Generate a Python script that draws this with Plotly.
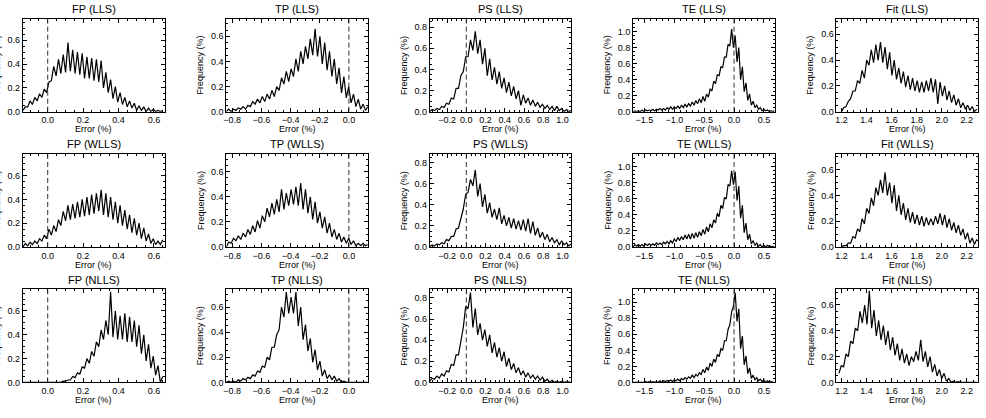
import numpy as np
import plotly.graph_objects as go

# ---------------- data (histogram frequencies, %) -------------
fp_lls = [0.01,0.04, 0.04,0.09, 0.06,0.12, 0.09,0.15, 0.12,0.19, 0.16,0.25, 0.26,0.38, 0.30,0.44,
          0.32,0.48, 0.33,0.58, 0.34,0.52, 0.32,0.50, 0.31,0.49, 0.28,0.46, 0.28,0.45, 0.26,0.44,
          0.25,0.43, 0.20,0.33, 0.16,0.27, 0.11,0.21, 0.08,0.16, 0.06,0.12, 0.04,0.09, 0.03,0.07,
          0.01,0.05, 0.01,0.04, 0.0,0.03, 0.0,0.02, 0.0,0.01, 0.0,0.01]
fp_wlls = [0.0,0.03, 0.01,0.04, 0.02,0.05, 0.03,0.07, 0.05,0.10, 0.07,0.15, 0.10,0.18, 0.13,0.23,
           0.18,0.30, 0.22,0.35, 0.23,0.36, 0.24,0.38, 0.25,0.40, 0.26,0.42, 0.27,0.44, 0.28,0.45,
           0.30,0.48, 0.27,0.45, 0.25,0.42, 0.23,0.38, 0.20,0.35, 0.18,0.31, 0.15,0.27, 0.12,0.24,
           0.10,0.20, 0.07,0.16, 0.05,0.11, 0.03,0.07, 0.02,0.05, 0.02,0.06]
fp_nlls = [0,0, 0,0, 0,0, 0,0, 0,0, 0,0, 0,0, 0,0.003, 0,0.01, 0.01,0.02, 0.02,0.05, 0.04,0.08,
           0.07,0.13, 0.12,0.20, 0.16,0.26, 0.22,0.34, 0.30,0.44, 0.36,0.52, 0.40,0.76, 0.38,0.60,
           0.36,0.56, 0.36,0.58, 0.34,0.55, 0.34,0.52, 0.30,0.48, 0.24,0.40, 0.18,0.32, 0.12,0.22,
           0.06,0.14, 0.0,0.05]

tp_lls = [0.0,0.02, 0.0,0.02, 0.01,0.03, 0.02,0.04, 0.02,0.05, 0.04,0.08, 0.06,0.10, 0.07,0.12,
          0.08,0.14, 0.10,0.17, 0.12,0.20, 0.17,0.27, 0.22,0.32, 0.24,0.34, 0.28,0.42, 0.32,0.48,
          0.38,0.52, 0.42,0.58, 0.45,0.66, 0.44,0.60, 0.38,0.55, 0.33,0.48, 0.28,0.42, 0.22,0.35,
          0.15,0.28, 0.11,0.20, 0.07,0.14, 0.04,0.10, 0.02,0.06, 0.01,0.04]
tp_wlls = [0.0,0.04, 0.03,0.07, 0.05,0.09, 0.06,0.11, 0.08,0.14, 0.10,0.17, 0.12,0.21, 0.15,0.25,
           0.20,0.31, 0.24,0.35, 0.26,0.38, 0.28,0.46, 0.30,0.43, 0.33,0.46, 0.34,0.48, 0.33,0.51,
           0.30,0.46, 0.27,0.40, 0.22,0.36, 0.19,0.28, 0.15,0.24, 0.11,0.19, 0.08,0.14, 0.06,0.11,
           0.04,0.08, 0.03,0.07, 0.02,0.05, 0.01,0.03, 0.01,0.03, 0.01,0.02]
tp_nlls = [0.0,0.01, 0.0,0.01, 0.0,0.02, 0.01,0.03, 0.02,0.04, 0.03,0.06, 0.05,0.09, 0.08,0.13,
           0.12,0.20, 0.18,0.28, 0.28,0.38, 0.42,0.60, 0.52,0.72, 0.55,0.68, 0.55,0.72, 0.45,0.60,
           0.34,0.46, 0.25,0.35, 0.16,0.26, 0.10,0.17, 0.05,0.10, 0.03,0.06, 0.02,0.05, 0.01,0.03,
           0.0,0.01, 0,0, 0,0, 0,0, 0,0, 0,0]

ps_lls = [0.0,0.02, 0.01,0.03, 0.02,0.05, 0.04,0.08, 0.07,0.13, 0.12,0.22, 0.22,0.34, 0.38,0.52,
          0.52,0.68, 0.58,0.76, 0.55,0.68, 0.45,0.60, 0.34,0.50, 0.30,0.42, 0.26,0.38, 0.22,0.32,
          0.18,0.28, 0.15,0.24, 0.12,0.20, 0.06,0.16, 0.08,0.13, 0.06,0.11, 0.05,0.09, 0.04,0.07,
          0.03,0.06, 0.02,0.05, 0.01,0.05, 0.01,0.03, 0.0,0.02, 0.0,0.01]
ps_wlls = [0.0,0.02, 0.01,0.03, 0.02,0.04, 0.03,0.07, 0.06,0.10, 0.10,0.17, 0.18,0.28, 0.36,0.50,
           0.52,0.64, 0.58,0.73, 0.48,0.60, 0.38,0.50, 0.32,0.42, 0.28,0.36, 0.26,0.37, 0.22,0.30,
           0.20,0.28, 0.18,0.27, 0.17,0.25, 0.16,0.26, 0.15,0.27, 0.13,0.24, 0.11,0.18, 0.09,0.14,
           0.07,0.12, 0.05,0.09, 0.04,0.07, 0.02,0.06, 0.02,0.04, 0.01,0.03]
ps_nlls = [0.01,0.04, 0.03,0.06, 0.04,0.08, 0.06,0.11, 0.10,0.17, 0.16,0.26, 0.26,0.40, 0.52,0.72,
           0.70,0.85, 0.52,0.70, 0.45,0.56, 0.40,0.50, 0.34,0.45, 0.28,0.38, 0.24,0.33, 0.20,0.29,
           0.15,0.23, 0.12,0.18, 0.09,0.14, 0.07,0.11, 0.05,0.09, 0.04,0.07, 0.03,0.06, 0.02,0.05,
           0.01,0.03, 0.0,0.02, 0.0,0.01, 0.0,0.01, 0,0.005, 0,0]

te_lls = [0.0,0.01, 0.0,0.01, 0.0,0.02, 0.0,0.02, 0.01,0.02, 0.01,0.03, 0.01,0.03, 0.02,0.04,
          0.02,0.04, 0.02,0.05, 0.03,0.06, 0.03,0.06, 0.04,0.07, 0.04,0.08, 0.05,0.09, 0.06,0.10,
          0.07,0.12, 0.08,0.14, 0.10,0.16, 0.11,0.19, 0.13,0.22, 0.18,0.28, 0.26,0.38, 0.35,0.46,
          0.45,0.56, 0.55,0.68, 0.68,0.84, 0.82,1.03, 0.80,0.95, 0.62,0.80, 0.40,0.56, 0.25,0.36,
          0.14,0.22, 0.08,0.13, 0.05,0.08, 0.03,0.05, 0.01,0.03, 0.01,0.02, 0.0,0.01, 0.0,0.01]
te_wlls = [0.0,0.03, 0.01,0.03, 0.01,0.03, 0.01,0.04, 0.02,0.04, 0.02,0.04, 0.02,0.05, 0.03,0.05,
           0.03,0.06, 0.04,0.07, 0.04,0.08, 0.05,0.10, 0.07,0.12, 0.08,0.13, 0.09,0.15, 0.10,0.16,
           0.10,0.17, 0.11,0.18, 0.12,0.19, 0.14,0.22, 0.16,0.25, 0.19,0.29, 0.24,0.34, 0.30,0.42,
           0.38,0.52, 0.48,0.62, 0.60,0.78, 0.76,0.95, 0.78,0.94, 0.58,0.76, 0.36,0.52, 0.18,0.30,
           0.09,0.16, 0.04,0.08, 0.02,0.05, 0.01,0.03, 0.0,0.02, 0.0,0.02, 0.0,0.01, 0.0,0.01]
te_nlls = [0,0, 0,0.005, 0,0.005, 0,0.01, 0,0.01, 0,0.01, 0,0.01, 0,0.02, 0,0.02, 0.01,0.02,
           0.01,0.03, 0.01,0.03, 0.02,0.04, 0.02,0.05, 0.03,0.06, 0.04,0.07, 0.05,0.09, 0.06,0.10,
           0.08,0.12, 0.10,0.16, 0.12,0.19, 0.15,0.24, 0.20,0.29, 0.25,0.35, 0.32,0.42, 0.40,0.52,
           0.52,0.66, 0.72,0.88, 0.95,1.12, 0.76,0.92, 0.42,0.58, 0.22,0.33, 0.11,0.18, 0.05,0.09,
           0.03,0.06, 0.02,0.04, 0.01,0.03, 0.0,0.02, 0.0,0.01, 0.0,0.005]

fit_lls = [0.0,0.03, 0.04,0.08, 0.10,0.16, 0.16,0.24, 0.22,0.32, 0.26,0.40, 0.36,0.48, 0.38,0.52,
           0.40,0.54, 0.38,0.50, 0.33,0.46, 0.28,0.40, 0.25,0.34, 0.22,0.31, 0.19,0.28, 0.17,0.26,
           0.16,0.24, 0.15,0.23, 0.15,0.24, 0.16,0.26, 0.15,0.25, 0.06,0.23, 0.12,0.20, 0.09,0.16,
           0.07,0.13, 0.05,0.10, 0.03,0.07, 0.02,0.05, 0.01,0.04, 0.0,0.02]
fit_wlls = [0.0,0.01, 0.01,0.03, 0.03,0.08, 0.07,0.14, 0.12,0.22, 0.18,0.30, 0.26,0.38, 0.32,0.46,
            0.40,0.52, 0.42,0.58, 0.40,0.50, 0.34,0.48, 0.28,0.40, 0.25,0.34, 0.21,0.30, 0.19,0.27,
            0.18,0.25, 0.17,0.24, 0.16,0.23, 0.17,0.22, 0.17,0.24, 0.18,0.26, 0.17,0.25, 0.15,0.22,
            0.13,0.19, 0.11,0.17, 0.09,0.14, 0.06,0.11, 0.03,0.07, 0.02,0.06]
fit_nlls = [0.07,0.13, 0.12,0.22, 0.20,0.32, 0.30,0.42, 0.40,0.55, 0.46,0.60, 0.45,0.71, 0.42,0.56,
            0.36,0.48, 0.33,0.44, 0.29,0.40, 0.25,0.35, 0.21,0.30, 0.17,0.26, 0.15,0.22, 0.13,0.20,
            0.16,0.24, 0.17,0.33, 0.16,0.24, 0.12,0.20, 0.08,0.14, 0.05,0.10, 0.03,0.07, 0.01,0.03,
            0.0,0.01, 0,0.005, 0,0, 0,0, 0,0, 0,0]

# first / last bin centre of each histogram (Error, %)
fp_bins = [-0.14, 0.65]
tp_bins = [-0.84, 0.13]
ps_bins = [-0.38, 1.09]
te_bins = [-1.69, 0.68]
fit_bins = [1.20, 2.28]
fit_nlls_bins = [1.18, 2.28]

params = ["FP", "TP", "PS", "TE", "Fit"]
methods = ["LLS", "WLLS", "NLLS"]

series = {
    ("FP", "LLS"): (fp_lls, fp_bins), ("FP", "WLLS"): (fp_wlls, fp_bins), ("FP", "NLLS"): (fp_nlls, fp_bins),
    ("TP", "LLS"): (tp_lls, tp_bins), ("TP", "WLLS"): (tp_wlls, tp_bins), ("TP", "NLLS"): (tp_nlls, tp_bins),
    ("PS", "LLS"): (ps_lls, ps_bins), ("PS", "WLLS"): (ps_wlls, ps_bins), ("PS", "NLLS"): (ps_nlls, ps_bins),
    ("TE", "LLS"): (te_lls, te_bins), ("TE", "WLLS"): (te_wlls, te_bins), ("TE", "NLLS"): (te_nlls, te_bins),
    ("Fit", "LLS"): (fit_lls, fit_bins), ("Fit", "WLLS"): (fit_wlls, fit_bins), ("Fit", "NLLS"): (fit_nlls, fit_nlls_bins),
}

# ---------------- axes style per column ----------------
x_ranges = [[-0.14, 0.66], [-0.84, 0.13], [-0.38, 1.09], [-1.69, 0.68], [1.16, 2.29]]
x_dtick = [0.2, 0.2, 0.2, 0.5, 0.2]
x_minor = [0.05, 0.05, 0.05, 0.1, 0.05]
y_ranges = [[0, 0.78], [0, 0.74], [0, 0.88], [0, 1.16], [0, 0.72]]
y_dtick = [0.2, 0.2, 0.2, 0.2, 0.2]
y_minor = [0.05, 0.05, 0.05, 0.05, 0.05]
dashed_zero = [True, True, True, True, False]

W, H = 986, 418
col_left = [20, 224, 428, 632, 836]
pw = 142
row_top = [19, 156, 293]
ph = 94

FONT = "Liberation Sans, Arial, sans-serif"

fig = go.Figure()
layout = dict(width=W, height=H, margin=dict(l=0, r=0, t=0, b=0),
              paper_bgcolor="white", plot_bgcolor="white", showlegend=False)
annotations = []
shapes = []

for r, m in enumerate(methods):
    for c, p in enumerate(params):
        k = r * 5 + c + 1
        sfx = "" if k == 1 else str(k)
        ys, bins = series[(p, m)]
        xs = np.linspace(bins[0], bins[1], len(ys))
        fig.add_trace(go.Scatter(x=xs, y=ys, mode="lines",
                                 line=dict(color="black", width=1.2),
                                 xaxis=f"x{sfx}", yaxis=f"y{sfx}", hoverinfo="skip"))
        L = col_left[c]
        T = row_top[r]
        common = dict(showline=True, linecolor="black", linewidth=1, mirror="allticks",
                      ticks="inside", ticklen=4, tickcolor="black", tickwidth=1,
                      showgrid=False, zeroline=False, tickformat=".1f", tickangle=0,
                      tickfont=dict(family=FONT, size=9, color="black"))
        layout[f"xaxis{sfx}"] = dict(domain=[L / W, (L + pw) / W], range=x_ranges[c],
                                     anchor=f"y{sfx}", dtick=x_dtick[c], tick0=0,
                                     minor=dict(dtick=x_minor[c], ticks="inside", ticklen=2,
                                                tickcolor="black", showgrid=False),
                                     **common)
        layout[f"yaxis{sfx}"] = dict(domain=[1 - (T + ph) / H, 1 - T / H], range=y_ranges[c],
                                     anchor=f"x{sfx}", dtick=y_dtick[c], tick0=0,
                                     minor=dict(dtick=y_minor[c], ticks="inside", ticklen=2,
                                                tickcolor="black", showgrid=False),
                                     **common)
        cx = (L + pw / 2) / W
        annotations.append(dict(text=f"{p} ({m})", x=cx, y=1 - (T - 2) / H, xref="paper", yref="paper",
                                xanchor="center", yanchor="bottom", showarrow=False,
                                font=dict(family=FONT, size=11, color="black")))
        annotations.append(dict(text="Error (%)", x=cx, y=1 - (T + ph + 18) / H, xref="paper", yref="paper",
                                xanchor="center", yanchor="middle", showarrow=False,
                                font=dict(family=FONT, size=9, color="black")))
        annotations.append(dict(text="Frequency (%)", x=(L - 26) / W, y=1 - (T + ph / 2) / H,
                                xref="paper", yref="paper", xanchor="center", yanchor="middle",
                                textangle=-90, showarrow=False,
                                font=dict(family=FONT, size=9, color="black")))
        if dashed_zero[c]:
            shapes.append(dict(type="line", xref=f"x{sfx}", yref=f"y{sfx} domain", x0=0, x1=0, y0=0, y1=1,
                               line=dict(color="#333333", width=1, dash="5px,3px")))

layout["annotations"] = annotations
layout["shapes"] = shapes
fig.update_layout(**layout)
fig.write_html("out.html")
